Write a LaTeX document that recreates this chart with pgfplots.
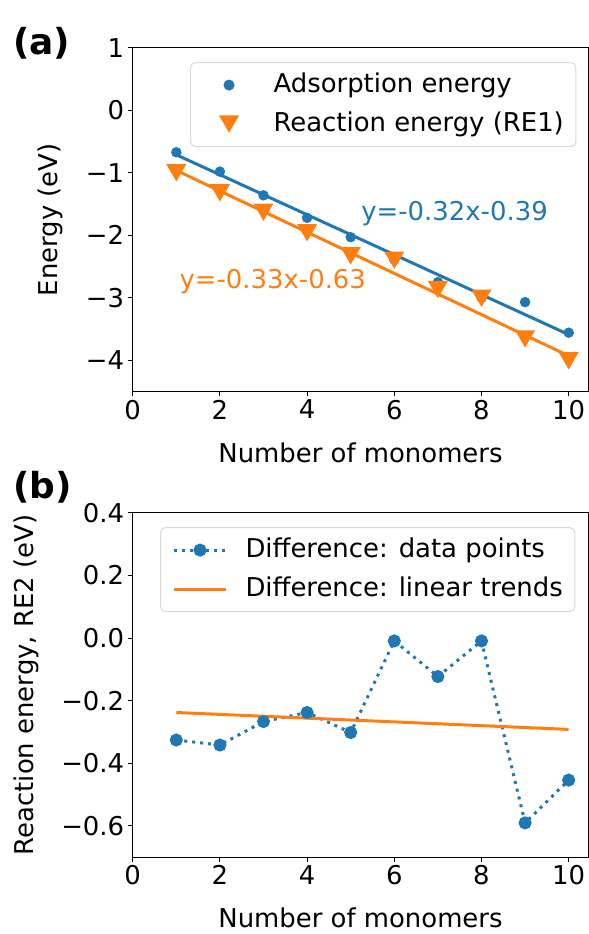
\documentclass[border=0pt]{standalone}
\usepackage{fontspec}
\setmainfont{DejaVu Sans}
\usepackage{pgfplots}
\pgfplotsset{compat=1.18}
\definecolor{tabblue}{HTML}{1F77B4}
\definecolor{taborange}{HTML}{FF7F0E}
\newcommand{\fsz}{\fontsize{26}{31}\selectfont}
\pgfdeclareplotmark{tridown}{%
  \pgfpathmoveto{\pgfqpoint{-10bp}{8.66bp}}%
  \pgfpathlineto{\pgfqpoint{10bp}{8.66bp}}%
  \pgfpathlineto{\pgfqpoint{0bp}{-8.66bp}}%
  \pgfpathclose
  \pgfusepathqfill}
\begin{document}
\begin{tikzpicture}
\useasboundingbox (0bp,0bp) rectangle (589bp,934bp);
\pgfplotsset{
  every axis/.append style={
    scale only axis, width=455.6bp,
    xmin=0, xmax=10.45, xtick={0,2,4,6,8,10},
    tick label style={font=\fsz},
    label style={font=\fsz},
    tick style={black, line width=1bp},
    tick align=outside, major tick length=5bp,
    tick pos=left,
    axis line style={line width=1bp},
    /pgf/number format/assume math mode=true,
    xlabel={Number of monomers},
    xlabel shift=16bp, ylabel shift=16bp,
    legend cell align=left,
    legend image code/.code={\path (0bp,0bp) (52bp,0bp);\draw[fill opacity=1, draw opacity=1, mark repeat=2,mark phase=2,#1] plot coordinates {(0bp,0bp) (26bp,0bp) (52bp,0bp)};},
    legend style={font=\fsz, draw=black!15, line width=1bp, rounded corners=5bp,
      fill=white, fill opacity=0.8, text opacity=1, draw opacity=1,
      anchor=north east, row sep=13bp, column sep=18bp,
      inner xsep=12bp, inner ysep=9.5bp,
      nodes={inner xsep=0bp, inner ysep=0bp, text height=20bp, text depth=6bp}},
  }
}
\begin{axis}[at={(132.7bp,542.6bp)}, anchor=south west, height=343.4bp,
  ymin=-4.5, ymax=1, ytick={-4,-3,-2,-1,0,1},
  yticklabels={−4,−3,−2,−1,0,1},
  ylabel={Energy (eV)},
  legend style={at={(0.9737,0.959)}}]
\addplot[only marks, mark=*, mark size=5bp, color=tabblue, mark options={draw=none, fill=tabblue}] coordinates {
(1,-0.67) (2,-0.98) (3,-1.36) (4,-1.72) (5,-2.03) (6,-2.39) (7,-2.75) (8,-3.00) (9,-3.07) (10,-3.56)};
\addplot[only marks, mark=tridown, color=taborange] coordinates {
(1,-1.00) (2,-1.32) (3,-1.63) (4,-1.96) (5,-2.33) (6,-2.40) (7,-2.87) (8,-3.01) (9,-3.66) (10,-4.01)};
\addplot[tabblue, line width=3bp, forget plot] coordinates {(1,-0.71) (10,-3.59)};
\addplot[taborange, line width=3bp, forget plot] coordinates {(1,-0.96) (10,-3.93)};
\node[tabblue, anchor=base west, font=\fsz, inner sep=0pt] at (axis cs:5.24,-1.76) {y=-0.32x-0.39};
\node[taborange, anchor=base west, font=\fsz, inner sep=0pt] at (axis cs:1.07,-2.85) {y=-0.33x-0.63};
\legend{Adsorption energy, Reaction energy (RE1)}
\end{axis}
\begin{axis}[at={(132.7bp,77bp)}, anchor=south west, height=344bp,
  ymin=-0.7, ymax=0.4, ytick={-0.6,-0.4,-0.2,0,0.2,0.4},
  yticklabels={−0.6,−0.4,−0.2,0.0,0.2,0.4},
  ylabel={Reaction energy, RE2 (eV)},
  legend style={at={(0.9715,0.959)}}]
\addplot[tabblue, line width=3bp, dash pattern=on 3bp off 5bp, mark=*, mark size=5bp, mark options={solid, draw=none, fill=tabblue}] coordinates {
(1,-0.326) (2,-0.342) (3,-0.267) (4,-0.238) (5,-0.302) (6,-0.009) (7,-0.123) (8,-0.009) (9,-0.591) (10,-0.454)};
\addplot[taborange, line width=3bp] coordinates {(1,-0.238) (10,-0.292)};
\legend{Difference: data points, Difference: linear trends}
\end{axis}
\node[anchor=base west, font=\fontsize{36}{40}\selectfont\bfseries, inner sep=0pt] at (13bp,879bp) {(a)};
\node[anchor=base west, font=\fontsize{36}{40}\selectfont\bfseries, inner sep=0pt] at (13bp,435bp) {(b)};
\end{tikzpicture}
\end{document}
